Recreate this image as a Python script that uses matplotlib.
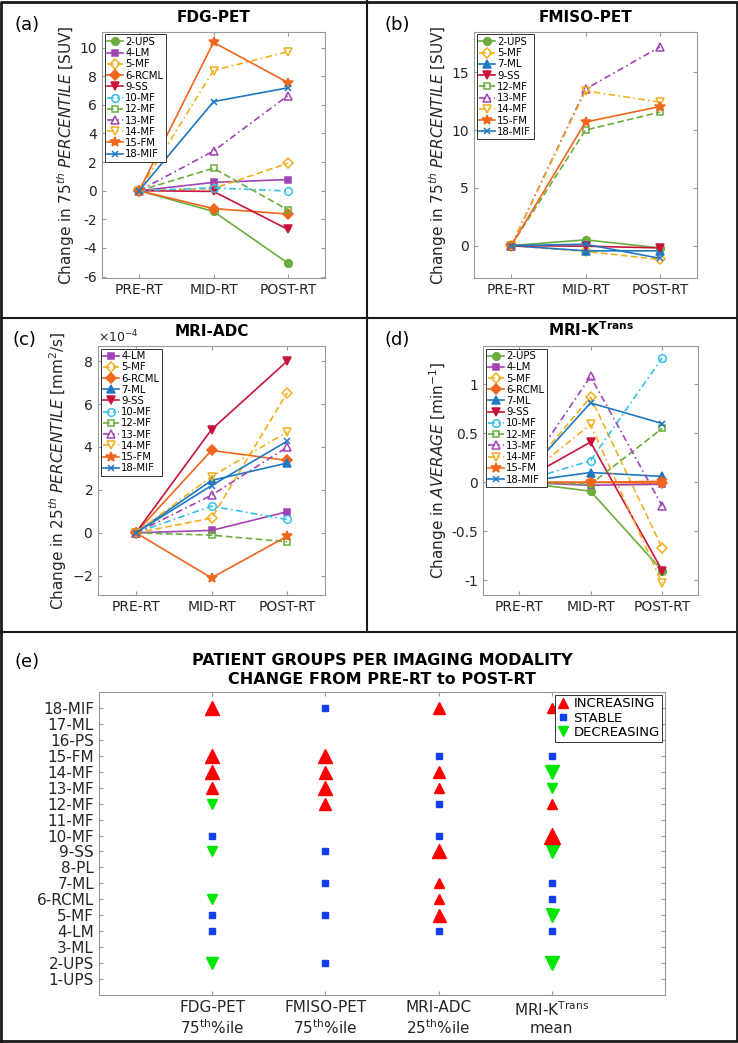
import matplotlib.pyplot as plt
from matplotlib.lines import Line2D
from matplotlib.ticker import FuncFormatter
import numpy as np

stages = ['PRE-RT', 'MID-RT', 'POST-RT']

# change from PRE-RT (PRE-RT is 0 for everybody)
fdg_patients = ['2-UPS', '4-LM', '5-MF', '6-RCML', '9-SS', '10-MF', '12-MF',
                '13-MF', '14-MF', '15-FM', '18-MIF']
fdg_mid = [-1.45, 0.58, 0.15, -1.25, -0.05, 0.2, 1.57, 2.77, 8.4, 10.37, 6.23]
fdg_post = [-5.06, 0.78, 1.92, -1.63, -2.7, -0.02, -1.34, 6.65, 9.72, 7.56, 7.19]

fmiso_patients = ['2-UPS', '5-MF', '7-ML', '9-SS', '12-MF', '13-MF', '14-MF',
                  '15-FM', '18-MIF']
fmiso_mid = [0.5, -0.5, -0.45, -0.05, 10.0, 13.55, 13.4, 10.7, 0.12]
fmiso_post = [-0.2, -1.2, -0.45, -0.2, 11.56, 17.2, 12.42, 12.04, -1.1]

# MRI-ADC in units of 1e-4 mm^2/s
adc_patients = ['4-LM', '5-MF', '6-RCML', '7-ML', '9-SS', '10-MF', '12-MF',
                '13-MF', '14-MF', '15-FM', '18-MIF']
adc_mid = [0.11, 0.68, 3.84, 2.44, 4.81, 1.24, -0.11, 1.75, 2.62, -2.1, 2.2]
adc_post = [0.98, 6.52, 3.37, 3.25, 8.0, 0.62, -0.42, 3.99, 4.7, -0.16, 4.27]

ktrans_patients = ['2-UPS', '4-LM', '5-MF', '6-RCML', '7-ML', '9-SS', '10-MF',
                   '12-MF', '13-MF', '14-MF', '15-FM', '18-MIF']
ktrans_mid = [-0.09, -0.03, 0.87, 0.0, 0.1, 0.41, 0.22, -0.02, 1.08, 0.59, 0.0, 0.81]
ktrans_post = [-0.9, -0.02, -0.67, -0.01, 0.06, -0.9, 1.27, 0.55, -0.24, -1.03, 0.01, 0.6]

# panel (e): sign = direction, size = magnitude, 0 = stable, None = no data
all_patients = ['1-UPS', '2-UPS', '3-ML', '4-LM', '5-MF', '6-RCML', '7-ML', '8-PL',
                '9-SS', '10-MF', '11-MF', '12-MF', '13-MF', '14-MF', '15-FM',
                '16-PS', '17-ML', '18-MIF']
modalities = ['FDG-PET\n75$^{\\mathrm{th}}$%ile', 'FMISO-PET\n75$^{\\mathrm{th}}$%ile',
              'MRI-ADC\n25$^{\\mathrm{th}}$%ile', 'MRI-K$^{\\mathrm{Trans}}$\nmean']
fdg_trend = [None, -11, None, 0, 0, -9, None, None, -9, 0, None, -9, 10, 13, 12,
             None, None, 12]
fmiso_trend = [None, 0, None, None, 0, None, 0, None, 0, None, None, 10, 12.7, 11.7,
               12.3, None, None, 0]
adc_trend = [None, None, None, 0, 11.7, 9.3, 9.3, None, 12.7, 0, None, 0, 8.7, 11,
             0, None, None, 10.7]
ktrans_trend = [None, -13.3, None, 0, -11.7, 0, 0, None, -11.7, 13.7, None, 9.3,
                -9.7, -13, 0, None, None, 9]

styles = {
    '2-UPS': ('#6aad3d', 'o', '-', True),
    '4-LM': ('#a044b4', 's', '-', True),
    '5-MF': ('#f2b01e', 'D', '--', False),
    '6-RCML': ('#f0661c', 'D', '-', True),
    '7-ML': ('#1f78c0', '^', '-', True),
    '9-SS': ('#c8143c', 'v', '-', True),
    '10-MF': ('#33c0e8', 'o', '-.', False),
    '12-MF': ('#6aad3d', 's', '--', False),
    '13-MF': ('#a044b4', '^', '-.', False),
    '14-MF': ('#f2b01e', 'v', '-.', False),
    '15-FM': ('#f0661c', '*', '-', True),
    '18-MIF': ('#1f78c0', 'x', '-', True),
}
dash_map = {'-': '-', '--': (0, (4, 2)), '-.': (0, (4, 2, 1, 2))}
size_map = {'o': 5.5, 's': 5, 'D': 4.6, '^': 6, 'v': 6, '*': 7, 'x': 5}

plt.rcParams['font.family'] = 'DejaVu Sans'
plt.rcParams['mathtext.fontset'] = 'dejavusans'
plt.rcParams['axes.unicode_minus'] = False
spine_col = '#9a9a9a'
text_col = '#262626'

fig = plt.figure(figsize=(7.38, 10.43), dpi=100)


def style_axes(ax, size):
    for s in ax.spines.values():
        s.set_color(spine_col)
        s.set_linewidth(0.8)
    ax.tick_params(direction='in', length=3, top=True, right=True,
                   color=spine_col, labelcolor=text_col, labelsize=size)


def draw_panel(rect, patients, mid, post, title, ylabel, ylim, yticks, scale=1.0):
    ax = fig.add_axes(rect)
    x = np.arange(len(stages)) + 1
    for name, m, p in zip(patients, mid, post):
        col, mk, ls, filled = styles[name]
        ax.plot(x, np.array([0, m, p]) * scale, color=col, ls=dash_map[ls], lw=1.2,
                marker=mk, ms=size_map[mk], mew=1.1,
                mfc=col if filled else 'none', mec=col, label=name)
    ax.set_xlim(0.5, 3.5)
    ax.set_ylim(ylim[0] * scale, ylim[1] * scale)
    ax.set_yticks(np.array(yticks) * scale)
    if scale == 1.0:
        ax.yaxis.set_major_formatter(FuncFormatter(lambda v, pos: '{:g}'.format(round(v, 6))))
    ax.set_xticks(x)
    ax.set_xticklabels(stages)
    ax.set_title(title, fontsize=11, fontweight='bold', pad=7, color='black')
    ax.set_ylabel(ylabel, fontsize=11, color=text_col, labelpad=2)
    style_axes(ax, 10)
    leg = ax.legend(loc='upper left', fontsize=7.3, labelspacing=0.12, handlelength=1.6,
                    handletextpad=0.2, borderpad=0.25, borderaxespad=0.25,
                    fancybox=False, framealpha=1)
    leg.get_frame().set_edgecolor('#333333')
    leg.get_frame().set_linewidth(0.7)
    return ax


draw_panel([0.1382, 0.7335, 0.3022, 0.2359], fdg_patients, fdg_mid, fdg_post,
           'FDG-PET', r'Change in 75$^{th}$ $\mathit{PERCENTILE}$ [SUV]',
           (-6.1, 11.1), [-6, -4, -2, 0, 2, 4, 6, 8, 10])
draw_panel([0.6423, 0.7335, 0.3022, 0.2359], fmiso_patients, fmiso_mid, fmiso_post,
           'FMISO-PET', r'Change in 75$^{th}$ $\mathit{PERCENTILE}$ [SUV]',
           (-2.8, 18.5), [0, 5, 10, 15])
ax_c = draw_panel([0.1328, 0.4295, 0.3076, 0.2387], adc_patients, adc_mid, adc_post,
                  'MRI-ADC', r'Change in 25$^{th}$ $\mathit{PERCENTILE}$ [mm$^2$/s]',
                  (-2.9, 8.7), [-2, 0, 2, 4, 6, 8], scale=1e-4)
ax_c.ticklabel_format(axis='y', style='sci', scilimits=(0, 0), useMathText=True)
ax_c.yaxis.get_offset_text().set_fontsize(9)
ax_c.yaxis.get_offset_text().set_color(text_col)
draw_panel([0.6545, 0.4295, 0.2913, 0.2387], ktrans_patients, ktrans_mid, ktrans_post,
           r'MRI-K$^{\mathbf{Trans}}$', r'Change in $\mathit{AVERAGE}$ [min$^{-1}$]',
           (-1.15, 1.39), [-1, -0.5, 0, 0.5, 1])

# panel (e)
ax_e = fig.add_axes([0.1341, 0.0460, 0.7669, 0.2905])
for j, trend in enumerate([fdg_trend, fmiso_trend, adc_trend, ktrans_trend]):
    for i, val in enumerate(trend):
        if val is None:
            continue
        if val > 0:
            ax_e.plot(j + 1, i + 1, marker='^', color='#ff0000', ms=val * 0.8, ls='none')
        elif val < 0:
            ax_e.plot(j + 1, i + 1, marker='v', color='#00e600', ms=-val * 0.8, ls='none')
        else:
            ax_e.plot(j + 1, i + 1, marker='s', color='#1040f0', ms=4, ls='none')
ax_e.set_xlim(0, 5)
ax_e.set_ylim(0, 19)
ax_e.set_yticks(np.arange(len(all_patients)) + 1)
ax_e.set_yticklabels(all_patients)
ax_e.set_xticks(np.arange(len(modalities)) + 1)
ax_e.set_xticklabels(modalities)
style_axes(ax_e, 11)
ax_e.set_title('PATIENT GROUPS PER IMAGING MODALITY\nCHANGE FROM PRE-RT to POST-RT',
               fontsize=11.5, fontweight='bold', pad=6, linespacing=1.3)
handles = [Line2D([], [], ls='none', marker='^', color='#ff0000', ms=7, label='INCREASING'),
           Line2D([], [], ls='none', marker='s', color='#1040f0', ms=4.5, label='STABLE'),
           Line2D([], [], ls='none', marker='v', color='#00e600', ms=7, label='DECREASING')]
leg = ax_e.legend(handles=handles, loc='upper right', fontsize=9.5, labelspacing=0.1,
                  handlelength=0.8, handletextpad=0.4, borderpad=0.2, borderaxespad=0.2,
                  fancybox=False, framealpha=1)
leg.get_frame().set_edgecolor('#333333')
leg.get_frame().set_linewidth(0.7)

# panel letters
for lab, px, py in [('(a)', 14, 25), ('(b)', 385, 25), ('(c)', 13, 340),
                    ('(d)', 385, 340), ('(e)', 14, 662)]:
    fig.text(px / 738, 1 - py / 1043, lab, fontsize=13, va='center', ha='left')

# panel frames
lc = '#1a1a1a'
fig.add_artist(Line2D([0.002, 0.998, 0.998, 0.002, 0.002], [0.002, 0.002, 0.998, 0.998, 0.002],
                      color=lc, lw=2, transform=fig.transFigure))
fig.add_artist(Line2D([0, 1], [1 - 318 / 1043] * 2, color=lc, lw=1.5, transform=fig.transFigure))
fig.add_artist(Line2D([0, 1], [1 - 632 / 1043] * 2, color=lc, lw=1.5, transform=fig.transFigure))
fig.add_artist(Line2D([367 / 738] * 2, [1, 1 - 632 / 1043], color=lc, lw=1.5,
                      transform=fig.transFigure))

fig.savefig('out.png', dpi=100)
